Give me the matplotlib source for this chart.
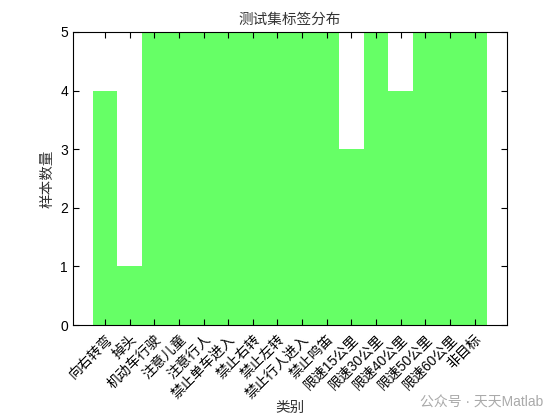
import matplotlib
matplotlib.use('Agg')
from matplotlib import pyplot as plt
import numpy as np

plt.rcParams['font.family'] = ['Liberation Sans', 'Noto Sans CJK SC', 'DejaVu Sans']

# 类别和样本数量
categories = ['向右转弯', '掉头', '机动车行驶', '注意儿童', '注意行人', '禁止单车进入',
              '禁止右转', '禁止左转', '禁止行人进入', '禁止鸣笛', '限速15公里', '限速30公里',
              '限速40公里', '限速50公里', '限速60公里', '非目标']
counts = [4, 1, 5, 5, 5, 5, 5, 5, 5, 5, 3, 5, 4, 5, 5, 5]

fig = plt.figure(figsize=(5.6, 4.2), dpi=100)
ax = fig.add_axes([0.130, 0.226, 0.775, 0.698])

x = np.arange(1, len(categories) + 1)
ax.bar(x, counts, width=1.0, color='#66ff66', edgecolor='none')

ax.set_xlim(-0.31, len(categories) + 1.31)
ax.set_ylim(0, 5)
ax.set_yticks(range(0, 6))
ax.set_xticks(x)
ax.set_xticklabels(categories, rotation=45, ha='right', rotation_mode='anchor', fontsize=9.5)

ax.tick_params(direction='in', top=True, right=True, length=4, width=0.8, labelsize=10)
ax.tick_params(axis='x', pad=5)
for s in ax.spines.values():
    s.set_linewidth(0.8)

ax.set_title('测试集标签分布', fontsize=10.5, color='#333333')
ax.set_ylabel('样本数量', fontsize=10.5, color='#333333', labelpad=4)
ax.set_xlabel('类别', fontsize=10.5, color='#333333', labelpad=0)

# 水印
fig.text(0.97, 0.025, '公众号 · 天天Matlab', ha='right', va='bottom',
         fontsize=10, color='#aaaaaa')

plt.savefig('out.png', dpi=100)
plt.close()
